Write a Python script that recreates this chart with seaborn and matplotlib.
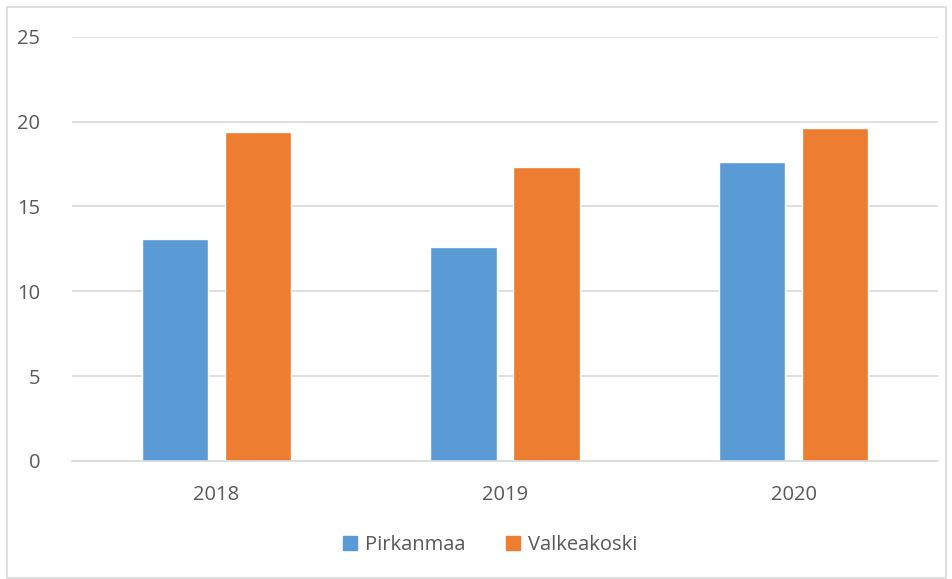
import matplotlib
matplotlib.use("Agg")
import matplotlib.pyplot as plt
import seaborn as sns
import pandas as pd
from matplotlib.patches import Rectangle

years = ["2018", "2019", "2020"]
series_names = ["Pirkanmaa", "Valkeakoski"]
pirkanmaa = [13.1, 12.6, 17.6]
valkeakoski = [19.4, 17.3, 19.6]
y_ticks = [0, 5, 10, 15, 20, 25]

df = pd.DataFrame({
    "year": years * 2,
    "series": [series_names[0]] * 3 + [series_names[1]] * 3,
    "value": pirkanmaa + valkeakoski,
})

sns.set_theme(style="white")
plt.rcParams["font.family"] = ["Open Sans", "DejaVu Sans"]

W, H = 953, 579
fig = plt.figure(figsize=(W / 100, H / 100), dpi=100)
ax = fig.add_axes([72 / W, 1 - 461 / H, (938 - 72) / W, (461 - 36.7) / H])

palette = {"Pirkanmaa": "#5B9BD5", "Valkeakoski": "#ED7D31"}
sns.barplot(data=df, x="year", y="value", hue="series", palette=palette,
            width=0.575, gap=0.2, ax=ax, legend=True, saturation=1)

ax.set_ylim(0, 25)
ax.set_yticks(y_ticks)
ax.set_yticklabels([str(t) for t in y_ticks])
ax.set_xlabel("")
ax.set_ylabel("")
ax.yaxis.grid(True, color="#d9d9d9", linewidth=1.2)
ax.set_axisbelow(True)
for s in ["top", "right", "left"]:
    ax.spines[s].set_visible(False)
ax.spines["bottom"].set_color("#d9d9d9")
ax.spines["bottom"].set_linewidth(1.2)
ax.tick_params(axis="both", length=0, labelsize=14.5, colors="#595959")
ax.tick_params(axis="y", pad=23)
ax.tick_params(axis="x", pad=17)

ax.get_legend().remove()
handles = [Rectangle((0, 0), 1, 1, color=palette[n]) for n in series_names]
fig.legend(handles, series_names, loc="center", bbox_to_anchor=(490 / W, 1 - 545 / H),
           ncol=2, frameon=False, handlelength=0.7, handleheight=0.7,
           handletextpad=0.4, columnspacing=2.0, prop={"size": 14.5},
           labelcolor="#595959")

fig.patches.append(Rectangle((7 / W, 1 / H), (946 - 7) / W, (572 - 1) / H,
                             transform=fig.transFigure, fill=False,
                             edgecolor="#d9d9d9", linewidth=1.2))

fig.savefig("out.png", dpi=100)
